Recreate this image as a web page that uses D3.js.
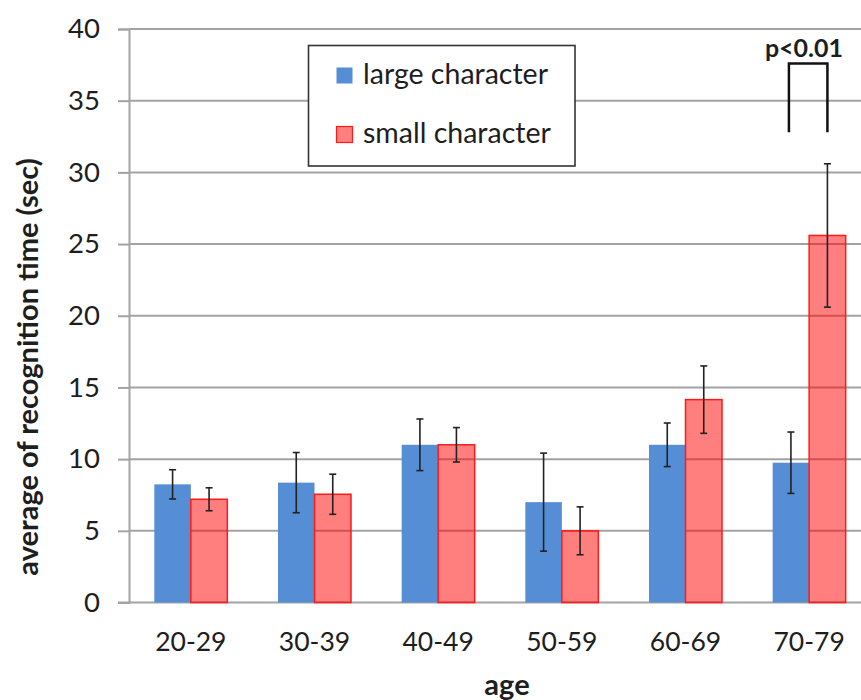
<!DOCTYPE html>
<html>
<head>
<meta charset="utf-8">
<script src="https://cdn.jsdelivr.net/npm/d3@7"></script>
<style>
  html, body { margin: 0; padding: 0; background: #fff; }
  svg { display: block; }
  text { font-family: Lato, "Open Sans", sans-serif; fill: #1e1e1e; }
</style>
</head>
<body>
<svg id="chart" width="861" height="700"></svg>
<script>
// Age groups and mean recognition times (sec) with their error ranges
const ageGroups = ["20-29", "30-39", "40-49", "50-59", "60-69", "70-79"];
const seriesNames = ["large character", "small character"];
const largeMeans = [8.24, 8.36, 11.0, 7.0, 11.0, 9.75];
const largeErrors = [1.02, 2.1, 1.8, 3.42, 1.52, 2.14];
const smallMeans = [7.2, 7.55, 11.0, 5.0, 14.15, 25.6];
const smallErrors = [0.8, 1.4, 1.2, 1.67, 2.35, 5.0];
const yTicks = [0, 5, 10, 15, 20, 25, 30, 35, 40];
const significance = { group: "70-79", label: "p<0.01", bracketTop: 37.6, bracketBottom: 32.8 };

const svg = d3.select("#chart");
const plotLeft = 129, plotRight = 871, plotTop = 29, plotBottom = 602.5;

const x = d3.scaleBand().domain(ageGroups).range([plotLeft, plotRight]).paddingInner(0).paddingOuter(0);
const x1 = d3.scaleBand().domain(seriesNames).range([0, 73]);
const xOff = (x.bandwidth() - 73) / 2;
const y = d3.scaleLinear().domain([0, 40]).range([plotBottom, plotTop]);

const gridColor = "#a3a3a3";

// horizontal gridlines
svg.append("g").selectAll("line").data(yTicks.filter(d => d > 0)).join("line")
  .attr("x1", plotLeft).attr("x2", 861)
  .attr("y1", d => y(d)).attr("y2", d => y(d))
  .attr("stroke", gridColor).attr("stroke-width", 2);

// y axis with outer ticks
const yAxis = svg.append("g").attr("transform", `translate(${plotLeft},0)`)
  .call(d3.axisLeft(y).tickValues(yTicks).tickSize(11).tickPadding(18).tickFormat(d3.format("d")));
yAxis.select(".domain").attr("stroke", gridColor).attr("stroke-width", 2);
yAxis.selectAll(".tick line").attr("stroke", gridColor).attr("stroke-width", 2);
yAxis.selectAll(".tick text").attr("font-size", 27.5).attr("font-family", "Lato, sans-serif").attr("fill", "#1e1e1e");

// x baseline
svg.append("line").attr("x1", plotLeft - 11).attr("x2", 861).attr("y1", plotBottom).attr("y2", plotBottom)
  .attr("stroke", gridColor).attr("stroke-width", 2);

// category labels
svg.append("g").selectAll("text").data(ageGroups).join("text")
  .attr("x", d => x(d) + x.bandwidth() / 2).attr("y", 651)
  .attr("text-anchor", "middle").attr("font-size", 26.5).text(d => d);

const rows = ageGroups.map((g, i) => [
  { group: g, series: seriesNames[0], mean: largeMeans[i], err: largeErrors[i] },
  { group: g, series: seriesNames[1], mean: smallMeans[i], err: smallErrors[i] }
]).flat();

const barX = d => x(d.group) + xOff + x1(d.series);

// bars
svg.append("g").selectAll("rect").data(rows).join("rect")
  .attr("x", barX)
  .attr("y", d => y(d.mean))
  .attr("width", x1.bandwidth())
  .attr("height", d => y(0) - y(d.mean))
  .attr("fill", d => d.series === seriesNames[0] ? "#558ed5" : "rgba(255,0,0,0.5)")
  .attr("stroke", d => d.series === seriesNames[0] ? "none" : "#ff1a1a")
  .attr("stroke-width", 1.5);

// error bars
const eb = svg.append("g").attr("stroke", "#222").attr("stroke-width", 1.6);
rows.forEach(d => {
  const cx = barX(d) + x1.bandwidth() / 2;
  const y0 = y(d.mean - d.err), y1v = y(d.mean + d.err);
  eb.append("line").attr("x1", cx).attr("x2", cx).attr("y1", y0).attr("y2", y1v);
  eb.append("line").attr("x1", cx - 3.5).attr("x2", cx + 3.5).attr("y1", y0).attr("y2", y0);
  eb.append("line").attr("x1", cx - 3.5).attr("x2", cx + 3.5).attr("y1", y1v).attr("y2", y1v);
});

// significance bracket
const sx0 = x(significance.group) + xOff + x1(seriesNames[0]) + x1.bandwidth() / 2 - 2;
const sx1 = x(significance.group) + xOff + x1(seriesNames[1]) + x1.bandwidth() / 2;
svg.append("path")
  .attr("d", `M${sx0},${y(significance.bracketBottom)} V${y(significance.bracketTop)} H${sx1} V${y(significance.bracketBottom)}`)
  .attr("fill", "none").attr("stroke", "#111").attr("stroke-width", 2.5);
svg.append("text").attr("x", 804).attr("y", 57)
  .attr("text-anchor", "middle").attr("font-size", 25).attr("font-weight", "bold").text(significance.label);

// legend
const lg = svg.append("g");
lg.append("rect").attr("x", 308.5).attr("y", 45.5).attr("width", 266.5).attr("height", 120.5)
  .attr("fill", "#fff").attr("stroke", "#333").attr("stroke-width", 1.6);
seriesNames.forEach((s, i) => {
  const yy = 67.5 + i * 59;
  lg.append("rect").attr("x", 336.5).attr("y", yy).attr("width", 16).attr("height", 16)
    .attr("fill", i === 0 ? "#558ed5" : "rgba(255,0,0,0.5)")
    .attr("stroke", i === 0 ? "none" : "#ff1a1a").attr("stroke-width", 1.2);
  lg.append("text").attr("x", 363).attr("y", yy + 16).attr("font-size", 28.5).text(s);
});

// axis titles
svg.append("text").attr("transform", "translate(38,367) rotate(-90)")
  .attr("text-anchor", "middle").attr("font-size", 29).attr("font-weight", "bold")
  .text("average of recognition time (sec)");
svg.append("text").attr("x", 507).attr("y", 695).attr("text-anchor", "middle")
  .attr("font-size", 29).attr("font-weight", "bold").text("age");
</script>
</body>
</html>
